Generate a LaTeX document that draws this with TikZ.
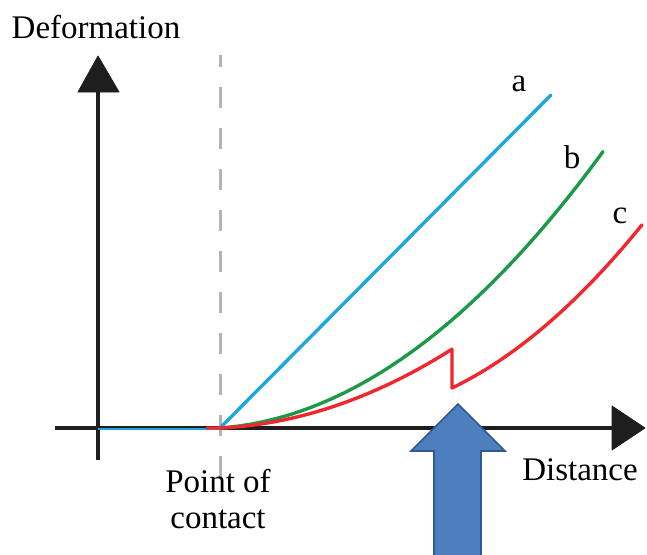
\documentclass[tikz,border=0pt]{standalone}
\usepackage{fontspec}
\setmainfont{Liberation Serif}
\definecolor{axisblack}{HTML}{1E1E1E}
\definecolor{guidegray}{HTML}{B4B4B4}
\definecolor{curvea}{HTML}{1DA6E0}
\definecolor{curveb}{HTML}{1C9A4A}
\definecolor{curvec}{HTML}{F0282D}
\definecolor{pushfill}{HTML}{4D7EBD}
\definecolor{pushedge}{HTML}{2F5A8E}
\tikzset{
  axisline/.style={draw=axisblack, line width=3.2pt},
  axishead/.style={fill=axisblack, draw=axisblack, line width=0.8pt, line join=round},
  curve/.style={line width=3.4pt, line join=round, line cap=round},
  lbl/.style={font=\fontsize{33}{38}\selectfont, text=black, inner sep=0pt},
}
\begin{document}
\begin{tikzpicture}[x=1pt, y=-1pt]
  \useasboundingbox (0,0) rectangle (647,554);

  % contact guide line
  \draw[guidegray, line width=3pt, dash pattern=on 21pt off 20pt, dash phase=9pt]
    (220,55) -- (220,492);

  % axes
  \draw[axisline] (55,428) -- (614,428);
  \draw[axisline] (98,460) -- (98,90);
  \filldraw[axishead] (612,406) -- (645,428) -- (612,450) -- cycle;
  \filldraw[axishead] (78,92) -- (98,56) -- (119,92) -- cycle;

  % curve a (linear)
  \draw[curvea, line width=1.2pt] (98,429) -- (220,429);
  \draw[curvea, curve] (220,428) -- (551,95);

  % curve b (progressive)
  \draw[curveb, curve] plot[domain=0:383, samples=60]
    ({220+\x},{428-(0.073*\x+0.00169*\x*\x)});

  % curve c (with stepped drop)
  \draw[curvec, curve] (207,428) -- (220,428) -- plot[domain=0:232, samples=50]
    ({220+\x},{428-(0.046*\x+0.00127*\x*\x)})
    -- (452,388) -- plot[domain=0:190, samples=50]
    ({452+\x},{388-(0.482*\x+0.00198*\x*\x)});

  % curve labels
  \node[lbl] (la) at (519,84) {a};
  \node[lbl] (lb) at (572,157) {b};
  \node[lbl] (lc) at (620,216) {c};

  % axis labels
  \node[lbl] (ylab) at (96,27) {Deformation};
  \node[lbl] (xlab) at (580,470) {Distance};
  \node[lbl, align=center] (contact) at (218,499) {Point of\\[-2pt]contact};

  % pushing arrow
  \filldraw[fill=pushfill, draw=pushedge, line width=1.6pt, line join=miter]
    (458,404) -- (505,451) -- (481,451) -- (481,556) -- (434,556)
    -- (434,451) -- (411,451) -- cycle;
\end{tikzpicture}
\end{document}
